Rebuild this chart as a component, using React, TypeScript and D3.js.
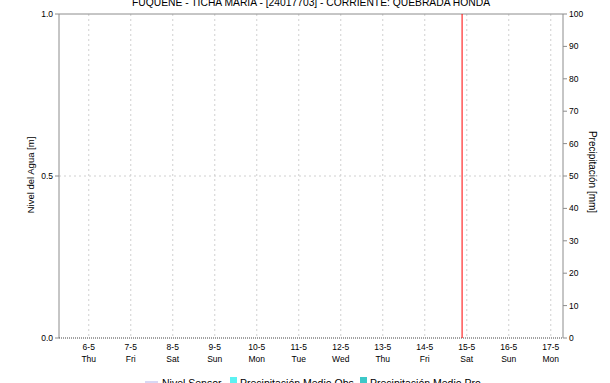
import React from "react";
import * as d3 from "d3";

const TITLE = "FUQUENE - TICHA MARIA - [24017703] - CORRIENTE: QUEBRADA HONDA";
const domainStart = new Date(2021, 4, 5, 7, 0);
const domainEnd = new Date(2021, 4, 17, 7, 0);
const nowMarker = new Date(2021, 4, 14, 21, 20);
const dayTicks = [6, 7, 8, 9, 10, 11, 12, 13, 14, 15, 16, 17].map((d) => new Date(2021, 4, d));
const weekdayNames = ["Sun", "Mon", "Tue", "Wed", "Thu", "Fri", "Sat"];
const levelTicks = [0, 0.5, 1.0];
const precipTicks = [0, 10, 20, 30, 40, 50, 60, 70, 80, 90, 100];
const legendItems = [
  { label: "Nivel Sensor", kind: "line", color: "#d8d8f4" },
  { label: "Precipitación Medio Obs", kind: "box", color: "#5cf2f2" },
  { label: "Precipitación Medio Pro", kind: "box", color: "#3cc8c8" },
];

const W = 610;
const H = 383;
const L = 59, R = 563, T = 14, B = 338;
const FONT = "'Liberation Sans', Arial, sans-serif";

export default function App() {
  const x = d3.scaleTime().domain([domainStart, domainEnd]).range([L, R]);
  const yL = d3.scaleLinear().domain([0, 1]).range([B, T]);
  const yR = d3.scaleLinear().domain([0, 100]).range([B, T]);
  const axisColor = "#8c8c8c";
  const legendX = [145, 230, 360];
  const tickFs = 8.5;

  return (
    <svg width={W} height={H} style={{ position: "absolute", left: 0, top: 0, background: "#fff" }} fontFamily={FONT}>
      <rect x={0} y={0} width={W} height={H} fill="#fff" />
      <text x={(L + R) / 2} y={5.5} textAnchor="middle" fontSize={10.3} fill="#000">{TITLE}</text>
      {/* grid */}
      {dayTicks.map((d, i) => (
        <line key={"vg" + i} x1={x(d)} x2={x(d)} y1={T} y2={B} stroke="#d0d0d0" strokeDasharray="2,3" />
      ))}
      <line x1={L} x2={R} y1={yL(0.5)} y2={yL(0.5)} stroke="#d0d0d0" strokeDasharray="2,3" />
      {/* frame */}
      <line x1={L} x2={R} y1={T} y2={T} stroke={axisColor} />
      <line x1={L} x2={L} y1={T} y2={B} stroke={axisColor} />
      <line x1={R} x2={R} y1={T} y2={B} stroke={axisColor} />
      <line x1={L} x2={R} y1={B} y2={B} stroke="#444" strokeDasharray="1,1" />
      {/* now marker */}
      <line x1={x(nowMarker)} x2={x(nowMarker)} y1={T} y2={B} stroke="#ff0000" strokeWidth={1} />
      {/* left axis */}
      {levelTicks.map((v, i) => (
        <g key={"lt" + i}>
          <line x1={L - 4} x2={L} y1={yL(v)} y2={yL(v)} stroke={axisColor} />
          <text x={L - 6} y={yL(v) + 3} textAnchor="end" fontSize={tickFs} fill="#000">{v.toFixed(1)}</text>
        </g>
      ))}
      {/* right axis */}
      {precipTicks.map((v, i) => (
        <g key={"rt" + i}>
          <line x1={R} x2={R + 4} y1={yR(v)} y2={yR(v)} stroke={axisColor} />
          <text x={R + 6} y={yR(v) + 3} textAnchor="start" fontSize={tickFs} fill="#000">{v}</text>
        </g>
      ))}
      {/* x axis labels */}
      {dayTicks.map((d, i) => (
        <g key={"xt" + i}>
          <text x={x(d)} y={350} textAnchor="middle" fontSize={tickFs} fill="#000">{`${d.getDate()}-${d.getMonth() + 1}`}</text>
          <text x={x(d)} y={362} textAnchor="middle" fontSize={tickFs} fill="#000">{weekdayNames[d.getDay()]}</text>
        </g>
      ))}
      {/* axis titles */}
      <text transform={`translate(34,175) rotate(-90)`} textAnchor="middle" fontSize={9.5} fill="#000">Nivel del Agua [m]</text>
      <text transform={`translate(589,172) rotate(90)`} textAnchor="middle" fontSize={10} fill="#000">Precipitación [mm]</text>
      {/* legend */}
      {legendItems.map((it, i) => (
        <g key={"lg" + i}>
          {it.kind === "line" ? (
            <line x1={legendX[i]} x2={legendX[i] + 13} y1={382} y2={382} stroke={it.color} strokeWidth={2} />
          ) : (
            <rect x={legendX[i]} y={377} width={7} height={7} fill={it.color} />
          )}
          <text x={legendX[i] + (it.kind === "line" ? 17 : 10)} y={387} fontSize={10.5} fill="#000">{it.label}</text>
        </g>
      ))}
    </svg>
  );
}
